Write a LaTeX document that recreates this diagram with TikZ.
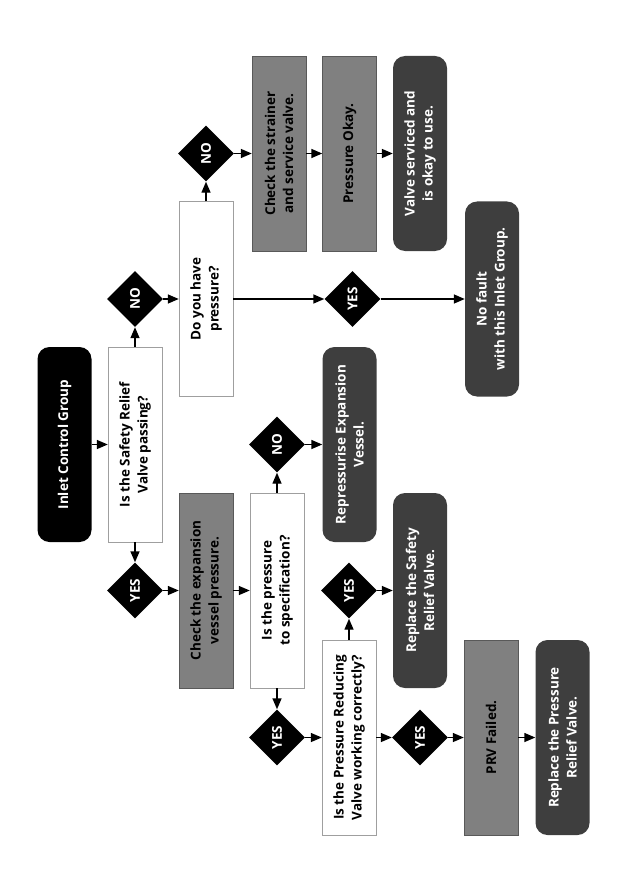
\documentclass[tikz,border=0pt]{standalone}
\usepackage{fontspec}
\setmainfont{Open Sans}
\usetikzlibrary{arrows.meta,shapes.geometric}
\definecolor{boxgray}{HTML}{808080}
\definecolor{boxdark}{HTML}{3E3E3E}

\begin{document}
\begin{tikzpicture}[x=1pt,y=-1pt,font=\bfseries\fontsize{13.5}{18}\selectfont,
  box/.style={rotate=90,minimum width=195,minimum height=54,align=center,inner sep=2pt},
  start/.style={box,fill=black,text=white,rounded corners=12pt},
  ask/.style={box,draw=gray!75,fill=white},
  chk/.style={box,draw=black!65,fill=boxgray},
  fin/.style={box,fill=boxdark,text=white,rounded corners=12pt},
  dia/.style={diamond,rotate=90,fill=black,text=white,minimum size=56,inner sep=0pt},
  arr/.style={-{Triangle[length=11pt,width=9pt]},line width=1.4pt}]
\useasboundingbox (0,0) rectangle (630,893);
% left column
\node[start] (inlet) at (64.5,444.5) {Inlet Control Group};
\node[ask] (srv) at (135,444.5) {Is the Safety Relief\\Valve passing?};
\node[dia] (noA) at (135,299) {NO};
\node[dia] (yesB) at (135,590.5) {YES};
% pressure branch
\node[ask] (pressq) at (206,299) {Do you have\\pressure?};
\node[dia] (noB) at (206,153.5) {NO};
\node[chk] (strainer) at (279,153.5) {Check the strainer\\and service valve.};
\node[chk] (pressok) at (349.5,153.5) {Pressure Okay.};
\node[fin] (serviced) at (420,153.5) {Valve serviced and\\is okay to use.};
\node[dia] (yesA) at (352.5,299) {YES};
\node[fin] (nofault) at (492,299) {No fault\\with this Inlet Group.};
% expansion vessel branch
\node[chk] (checkexp) at (206,590.5) {Check the expansion\\vessel pressure.};
\node[ask] (specq) at (277,590.5) {Is the pressure\\to specification?};
\node[dia] (noC) at (277,444.5) {NO};
\node[fin] (repress) at (349.5,444.5) {Repressurise Expansion\\Vessel.};
\node[dia] (yesC) at (277,737.5) {YES};
\node[ask] (prvq) at (349,737.5) {Is the Pressure Reducing\\Valve working correctly?};
\node[dia] (yesD) at (349,590.5) {YES};
\node[fin] (replsrv) at (420,590.5) {Replace the Safety\\Relief Valve.};
\node[dia] (yesE) at (420,737.5) {YES};
\node[chk] (prvfail) at (491,737.5) {PRV Failed.};
\node[fin] (replprv) at (562.5,737.5) {Replace the Pressure\\Relief Valve.};
% connectors
\foreach \a/\b in {inlet/srv,srv/noA,srv/yesB,noA/pressq,pressq/noB,noB/strainer,
  strainer/pressok,pressok/serviced,pressq/yesA,yesA/nofault,yesB/checkexp,
  checkexp/specq,specq/noC,noC/repress,specq/yesC,yesC/prvq,prvq/yesD,
  yesD/replsrv,prvq/yesE,yesE/prvfail,prvfail/replprv}
  \draw[arr] (\a) -- (\b);
\end{tikzpicture}
\end{document}
